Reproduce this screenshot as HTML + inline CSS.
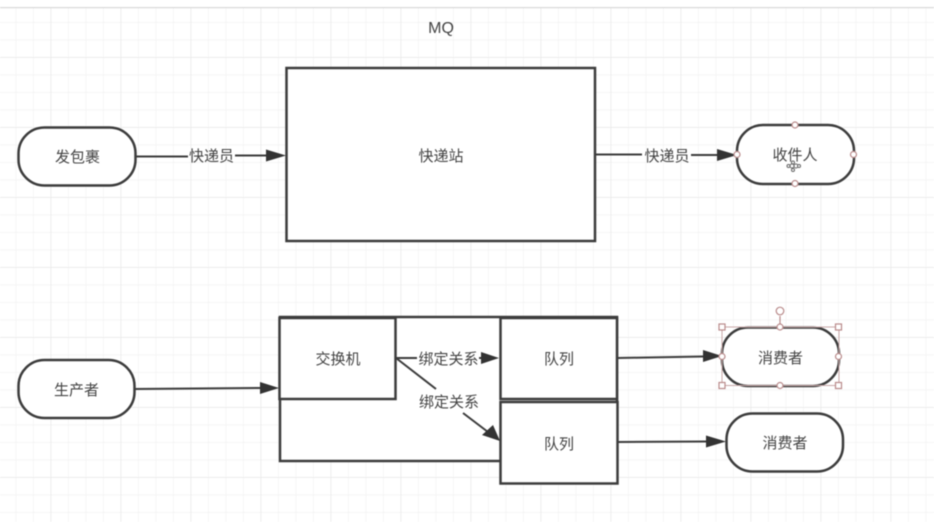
<!DOCTYPE html>
<html>
<head>
<meta charset="utf-8">
<style>
html,body{margin:0;padding:0;background:#fff;width:934px;height:522px;overflow:hidden}
svg{display:block;filter:blur(0.45px)}
text{font-family:"Liberation Sans","Noto Sans CJK SC",sans-serif;font-size:15px;fill:#444;text-anchor:middle}
</style>
</head>
<body>
<svg width="934" height="522" viewBox="0 0 934 522" xmlns="http://www.w3.org/2000/svg">
<defs>
<pattern id="minor" x="-2" y="4.5" width="17.5" height="17.5" patternUnits="userSpaceOnUse"><path d="M0 0V17.5M0 0H17.5" stroke="#f2f2f2" stroke-width="1.4" fill="none"/></pattern>
<pattern id="major" x="50.5" y="57" width="70" height="70" patternUnits="userSpaceOnUse"><path d="M0 0V70M0 0H70" stroke="#e9e9e9" stroke-width="1.4" fill="none"/></pattern>
</defs>
<rect x="0" y="8" width="934" height="514" fill="url(#minor)"/>
<rect x="0" y="8" width="934" height="514" fill="url(#major)"/>
<rect x="0" y="7" width="934" height="1.2" fill="#d8d8d8"/>

<text x="441" y="33" style="font-size:16px">MQ</text>

<g fill="#fff" stroke="#3c3c3c" stroke-width="2.5">
<rect x="18.500" y="127.500" width="117" height="58" rx="26"/>
<rect x="286.500" y="68" width="308.500" height="173"/>
<rect x="737" y="125" width="117" height="59" rx="26"/>
<rect x="18.500" y="360" width="116" height="58" rx="26"/>
<rect x="280" y="317" width="337" height="144"/>
<rect x="279.500" y="318" width="116" height="81"/>
<rect x="500.500" y="318" width="116.500" height="81"/>
<rect x="500.500" y="402" width="117" height="81.500"/>
<rect x="722" y="327.500" width="117" height="58.500" rx="26"/>
<rect x="726.500" y="413.500" width="116.500" height="58" rx="26"/>
</g>

<g stroke="#3c3c3c" stroke-width="2" fill="none">
<path d="M135 156.500H188M235 155.500H266"/>
<path d="M595 154.500H642M691 155H718"/>
<path d="M134 389 L260 388"/>
<path d="M396 358H417M479 358H482"/>
<path d="M396 358 L436 389M463 413 L488 432"/>
<path d="M617 358 L703 356.500"/>
<path d="M618 442 L706 441.500"/>
</g>
<g fill="#333" stroke="none">
<polygon points="286,155.500 266,149.500 266,161.500"/>
<polygon points="737,155 717,149 717,161"/>
<polygon points="279,388 260,382 260,394"/>
<polygon points="499,358 481,352 481,364"/>
<polygon points="500,441 493,425 482,435"/>
<polygon points="722,356 703,350 703,362"/>
<polygon points="726,441.500 706,435.500 706,447.500"/>
</g>

<text x="77.500" y="162">发包裹</text>
<text x="211.500" y="161">快递员</text>
<text x="441" y="161">快递站</text>
<text x="667" y="161">快递员</text>
<text x="795" y="160">收件人</text>
<text x="76.500" y="395">生产者</text>
<text x="338" y="364">交换机</text>
<text x="448.500" y="364">绑定关系</text>
<text x="449" y="407">绑定关系</text>
<text x="559" y="364">队列</text>
<text x="559" y="449">队列</text>
<text x="780.500" y="363">消费者</text>
<text x="785" y="448">消费者</text>

<!-- selection handles, upper -->
<g fill="#fff" stroke="#b98a8a" stroke-width="1.2">
<circle cx="795" cy="125" r="3"/><circle cx="795" cy="183.500" r="3"/>
<circle cx="737" cy="154.500" r="3"/><circle cx="853.500" cy="154.500" r="3"/>
</g>
<!-- move cursor -->
<g fill="#fff" stroke="#666" stroke-width="1">
<circle cx="792" cy="166" r="2"/><circle cx="796" cy="166" r="2"/>
<circle cx="788.500" cy="166" r="1.500"/><circle cx="799" cy="166" r="1.500"/>
<circle cx="793" cy="170" r="1.500"/><circle cx="793" cy="162.500" r="1.500"/>
</g>
<!-- selection, lower -->
<rect x="722" y="327" width="117" height="58.500" fill="none" stroke="#c9a8a8" stroke-width="1"/>
<path d="M780 327V316" stroke="#b98a8a" stroke-width="1.2"/>
<g fill="#fff" stroke="#b98a8a" stroke-width="1.2">
<circle cx="780" cy="311" r="3.800"/>
<circle cx="780" cy="327" r="3"/><circle cx="780" cy="385.500" r="3"/>
<circle cx="722" cy="356.500" r="3"/><circle cx="838.500" cy="356.500" r="3"/>
<rect x="719" y="324" width="6" height="6"/><rect x="835.500" y="324" width="6" height="6"/>
<rect x="719" y="382.500" width="6" height="6"/><rect x="835.500" y="382.500" width="6" height="6"/>
</g>
</svg>
</body>
</html>
